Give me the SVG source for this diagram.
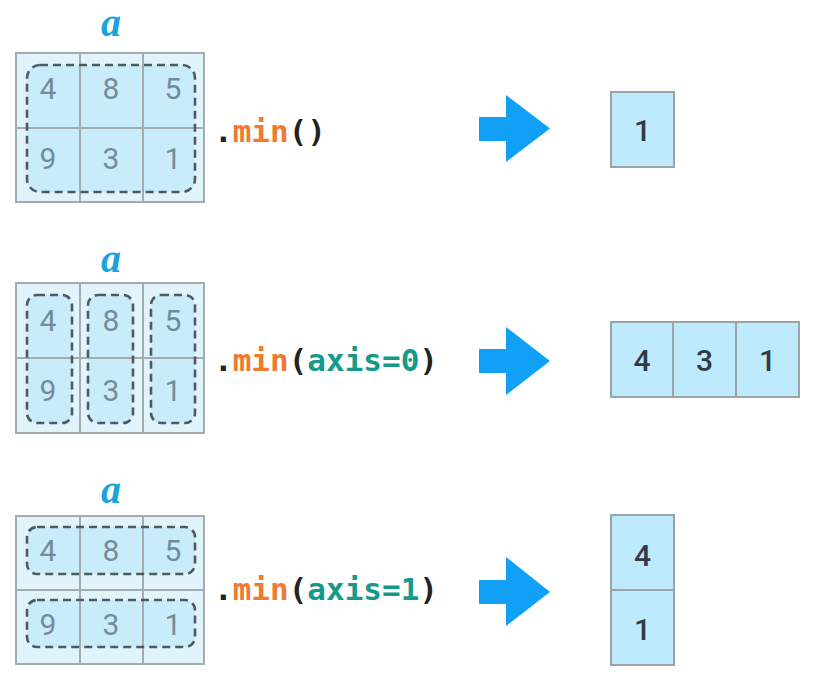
<svg xmlns="http://www.w3.org/2000/svg" width="820" height="679" viewBox="0 0 820 679">
<style>
.bg{fill:#ffffff}
.cell{fill:#e2f4fb;stroke:#a3acb0;stroke-width:2}
.hl{fill:#c9ecfb;stroke:none}
.dash{fill:none;stroke:#4f5960;stroke-width:2.6;stroke-dasharray:8 5}
.num{font-family:Roboto,"Noto Sans",sans-serif;font-size:30px;fill:#728d99;text-anchor:middle}
.lbl{font-family:"Liberation Serif",serif;font-weight:bold;font-style:italic;font-size:40px;fill:#19a3e0;text-anchor:middle}
.code{font-family:"DejaVu Sans Mono",monospace;font-weight:bold;font-size:31px;fill:#222}
.fn{fill:#ef7a30}
.arg{fill:#16998a}
.arrow{fill:#10a0f5}
.res{fill:#bdebfd;stroke:#9aa3a7;stroke-width:2}
.rnum{font-family:Roboto,"Noto Sans",sans-serif;font-weight:500;font-size:30px;fill:#343a44;text-anchor:middle}
</style>
<rect class="bg" x="0" y="0" width="820" height="679"/>

<g id="grid1">
<text class="lbl" x="111" y="36">a</text>
<rect class="cell" x="16" y="53" width="188" height="149"/>
<rect class="hl" x="27" y="65" width="168" height="127" rx="13"/>
<path d="M80 53V202M143 53V202M16 128H204" stroke="#a3acb0" stroke-width="2" fill="none"/>
<rect class="dash" x="27" y="65" width="168" height="127" rx="13"/>
<text class="num" x="48" y="99">4</text><text class="num" x="111" y="99">8</text><text class="num" x="173" y="99">5</text>
<text class="num" x="48" y="169">9</text><text class="num" x="111" y="169">3</text><text class="num" x="173" y="169">1</text>
</g>
<g id="code1"><text class="code" x="214" y="142">.<tspan class="fn">min</tspan>()</text></g>
<g id="result1">
<rect class="res" x="611" y="92" width="63" height="75"/>
<text class="rnum" x="642.5" y="141">1</text>
</g>

<g id="grid2">
<text class="lbl" x="111" y="272">a</text>
<rect class="cell" x="16" y="283" width="188" height="150"/>
<rect class="hl" x="27" y="295" width="45" height="128" rx="10"/>
<rect class="hl" x="88" y="295" width="45" height="128" rx="10"/>
<rect class="hl" x="151" y="295" width="44" height="128" rx="10"/>
<path d="M80 283V433M143 283V433M16 358H204" stroke="#a3acb0" stroke-width="2" fill="none"/>
<rect class="dash" x="27" y="295" width="45" height="128" rx="10"/>
<rect class="dash" x="88" y="295" width="45" height="128" rx="10"/>
<rect class="dash" x="151" y="295" width="44" height="128" rx="10"/>
<text class="num" x="48" y="331">4</text><text class="num" x="111" y="331">8</text><text class="num" x="173" y="331">5</text>
<text class="num" x="48" y="401">9</text><text class="num" x="111" y="401">3</text><text class="num" x="173" y="401">1</text>
</g>
<g id="code2"><text class="code" x="214" y="371">.<tspan class="fn">min</tspan>(<tspan class="arg">axis=0</tspan>)</text></g>
<g id="result2">
<rect class="res" x="611" y="322" width="188" height="75"/>
<path d="M673 322V397M736 322V397" stroke="#9aa3a7" stroke-width="2"/>
<text class="rnum" x="642" y="371">4</text><text class="rnum" x="704.5" y="371">3</text><text class="rnum" x="767.5" y="371">1</text>
</g>

<g id="grid3">
<text class="lbl" x="111" y="503">a</text>
<rect class="cell" x="16" y="516" width="188" height="148"/>
<rect class="hl" x="27" y="527" width="168" height="47" rx="10"/>
<rect class="hl" x="27" y="600" width="168" height="47" rx="10"/>
<path d="M80 516V664M143 516V664M16 590H204" stroke="#a3acb0" stroke-width="2" fill="none"/>
<rect class="dash" x="27" y="527" width="168" height="47" rx="10"/>
<rect class="dash" x="27" y="600" width="168" height="47" rx="10"/>
<text class="num" x="48" y="561">4</text><text class="num" x="111" y="561">8</text><text class="num" x="173" y="561">5</text>
<text class="num" x="48" y="635">9</text><text class="num" x="111" y="635">3</text><text class="num" x="173" y="635">1</text>
</g>
<g id="code3"><text class="code" x="214" y="600">.<tspan class="fn">min</tspan>(<tspan class="arg">axis=1</tspan>)</text></g>
<g id="result3">
<rect class="res" x="611" y="515" width="63" height="150"/>
<path d="M611 590H674" stroke="#9aa3a7" stroke-width="2"/>
<text class="rnum" x="642.5" y="566">4</text>
<text class="rnum" x="642.5" y="640">1</text>
</g>

<g id="connectors">
<polygon class="arrow" points="479,117 506,117 506,95 550,128.5 506,162 506,141 479,141"/>
<polygon class="arrow" points="479,349 506,349 506,327 550,361 506,395 506,373 479,373"/>
<polygon class="arrow" points="479,580 506,580 506,557 550,592 506,626 506,604 479,604"/>
</g>
</svg>
